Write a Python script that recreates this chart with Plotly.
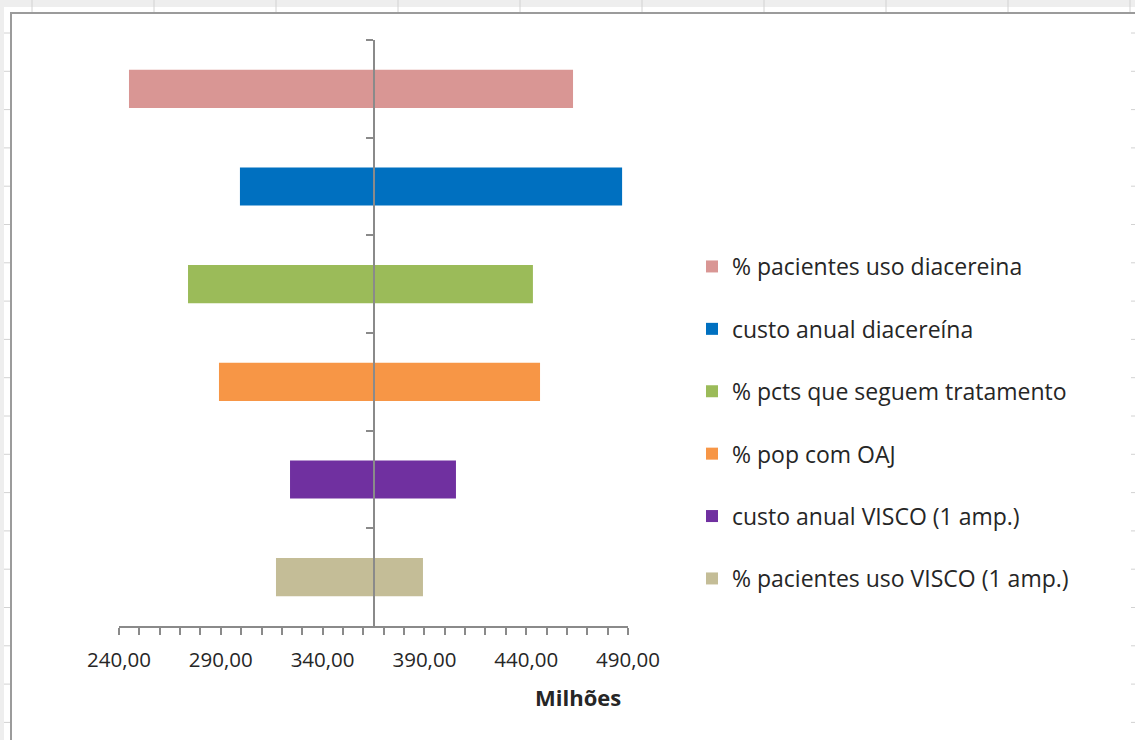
import plotly.graph_objects as go

# ---------------- data ----------------
categories = [
    "% pacientes uso diacereina",
    "custo anual diacereína",
    "% pcts que seguem tratamento",
    "% pop com OAJ",
    "custo anual VISCO (1 amp.)",
    "% pacientes uso VISCO (1 amp.)",
]
low_values = [244.9, 299.4, 273.9, 289.1, 324.0, 317.1]
high_values = [463.0, 487.1, 443.3, 446.8, 405.5, 389.3]
bar_colors = ["#D99694", "#0070C0", "#9BBB59", "#F79646", "#7030A0", "#C4BD97"]
base_value = 365.0
x_min, x_max = 240, 490
major_step, minor_step = 50, 10
axis_title = "Milhões"

# ---------------- geometry helpers ----------------
W, H = 1135, 740
ML, MR, MT, MB = 119, W - 628, 40, H - 626
PW, PH = W - ML - MR, H - MT - MB


def px_x(px):
    return (px - ML) / PW


def px_y(py):
    return (H - MB - py) / PH


FONT = "Open Sans"
TXT = "#262626"
AX = "#8a8a8a"

fig = go.Figure()
for cat, lo, hi, col in zip(categories, low_values, high_values, bar_colors):
    fig.add_trace(go.Bar(
        y=[cat], x=[hi - lo], base=[lo], orientation="h",
        name=cat, legendgroup=cat,
        marker=dict(color=col, line=dict(width=0)),
        width=0.39,
    ))

# ---------------- Excel-like frame decorations ----------------
shapes = []
shapes.append(dict(type="rect", xref="paper", yref="paper",
                   x0=px_x(0), x1=px_x(W), y0=px_y(7), y1=px_y(0),
                   fillcolor="#eeeeee", line=dict(width=0), layer="below"))
shapes.append(dict(type="rect", xref="paper", yref="paper",
                   x0=px_x(0), x1=px_x(4), y0=px_y(H), y1=px_y(0),
                   fillcolor="#eeeeee", line=dict(width=0), layer="below"))
c = 32
while c < W:
    shapes.append(dict(type="line", xref="paper", yref="paper",
                       x0=px_x(c), x1=px_x(c), y0=px_y(12), y1=px_y(0),
                       line=dict(color="#d2d2d2", width=1)))
    c += 122
r = 33
while r < H:
    shapes.append(dict(type="line", xref="paper", yref="paper",
                       x0=px_x(4), x1=px_x(10), y0=px_y(r), y1=px_y(r),
                       line=dict(color="#d2d2d2", width=1)))
    shapes.append(dict(type="line", xref="paper", yref="paper",
                       x0=px_x(1131), x1=px_x(W), y0=px_y(r), y1=px_y(r),
                       line=dict(color="#d2d2d2", width=1)))
    r += 38.3
shapes.append(dict(type="line", xref="paper", yref="paper",
                   x0=px_x(10), x1=px_x(W), y0=px_y(13), y1=px_y(13),
                   line=dict(color="#9b9b9b", width=2)))
shapes.append(dict(type="line", xref="paper", yref="paper",
                   x0=px_x(11), x1=px_x(11), y0=px_y(H), y1=px_y(13),
                   line=dict(color="#9b9b9b", width=2)))

fig.update_layout(
    width=W, height=H,
    margin=dict(l=ML, r=MR, t=MT, b=MB, pad=0),
    paper_bgcolor="white", plot_bgcolor="white",
    barmode="overlay",
    separators=",.",
    font=dict(family=FONT, size=18, color=TXT),
    xaxis=dict(
        range=[x_min, x_max], tick0=x_min, dtick=major_step,
        tickformat=".2f", showgrid=False, zeroline=False,
        showline=True, linecolor=AX, linewidth=1.5,
        ticks="outside", ticklen=7, tickcolor=AX, tickwidth=1.5,
        minor=dict(dtick=minor_step, tick0=x_min, ticks="outside",
                   ticklen=7, tickcolor=AX, tickwidth=1.5, showgrid=False),
        tickfont=dict(family=FONT, size=20.5, color=TXT),
        ticklabelstandoff=8,
        fixedrange=True,
    ),
    xaxis2=dict(
        overlaying="x", anchor="y", side="bottom",
        range=[x_min, x_max], tick0=x_min, dtick=minor_step,
        ticks="inside", ticklen=7, tickcolor=AX, tickwidth=1.5,
        showticklabels=False, showgrid=False, zeroline=False, showline=False,
    ),
    yaxis=dict(
        type="category", categoryorder="array", categoryarray=categories,
        range=[len(categories) - 0.5, -0.5],
        anchor="free", position=(base_value - x_min) / (x_max - x_min),
        showticklabels=False, showgrid=False, zeroline=False,
        showline=True, linecolor=AX, linewidth=1.5,
        ticks="outside", tickson="boundaries", ticklen=7,
        tickcolor=AX, tickwidth=1.5,
    ),
    legend=dict(
        x=px_x(692), y=px_y(245), xanchor="left", yanchor="top",
        traceorder="grouped", tracegroupgap=29.5,
        font=dict(family=FONT, size=23, color=TXT),
        bgcolor="rgba(0,0,0,0)", borderwidth=0,
    ),
    annotations=[dict(
        text="<b>" + axis_title + "</b>", xref="paper", yref="paper",
        x=px_x(578), y=px_y(697), xanchor="center", yanchor="middle",
        showarrow=False, font=dict(family=FONT, size=22, color=TXT),
    )],
    shapes=shapes,
)

fig.write_html("out.html")
